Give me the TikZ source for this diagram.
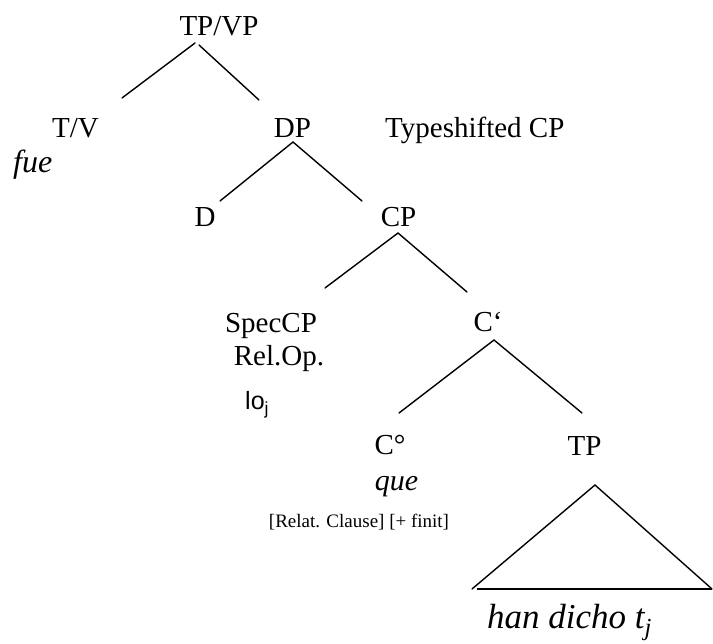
\documentclass[tikz,border=0pt]{standalone}
\usepackage{fontspec}
\setmainfont{Liberation Serif}
\newfontfamily\arialfont{Liberation Sans}
\begin{document}
\begin{tikzpicture}[x=1pt,y=-1pt,
  lbl/.style={anchor=base,inner sep=0pt,font=\fontsize{29}{34}\selectfont},
  word/.style={lbl,font=\fontsize{32}{38}\selectfont\itshape},
  note/.style={anchor=base,inner sep=0pt,font=\fontsize{19}{22}\selectfont},
  branch/.style={line width=1.4pt,line cap=round}]
\useasboundingbox (0,0) rectangle (713,644);

% category labels
\node[lbl] (tpvp) at (219,36) {TP/VP};
\node[lbl] (tv) at (75.5,138) {T/V};
\node[word,anchor=base west] (fue) at (13,173) {fue};
\node[lbl] (dp) at (292.5,138) {DP};
\node[lbl,anchor=base west] (tscp) at (385,138) {Typeshifted CP};
\node[lbl] (d) at (205,227) {D};
\node[lbl] (cp) at (398.5,227) {CP};
\node[lbl] (spec) at (271,333) {SpecCP};
\node[lbl] (relop) at (279,366) {Rel.Op.};
\node[lbl,anchor=base west,font=\arialfont\fontsize{25}{30}\selectfont] (lo) at (245,410) {lo\textsubscript{j}};
\node[lbl] (cbar) at (488,332) {C‘};
\node[lbl] (czero) at (390,455) {C°};
\node[lbl,font=\fontsize{30}{36}\selectfont\itshape] (que) at (396.5,490) {que};
\node[lbl] (tp) at (584.5,456) {TP};
\node[note] (feat) at (359,527) {[Relat. Clause] [+ finit]};
\node[lbl,anchor=base west,font=\fontsize{35}{40}\selectfont\itshape] (han) at (487,628) {han dicho t\textsubscript{j}};

% branch end points
\coordinate (tpvp-l) at (195,43);  \coordinate (tv-t) at (122,98);
\coordinate (tpvp-r) at (199,45);  \coordinate (dp-t) at (259,100);
\coordinate (dp-b) at (293,142);
\coordinate (d-t) at (220,201);    \coordinate (cp-t) at (362,201);
\coordinate (cp-b) at (398,233);
\coordinate (spec-t) at (325,288); \coordinate (cbar-t) at (467,292);
\coordinate (cbar-b) at (494,340);
\coordinate (czero-t) at (399,413); \coordinate (tp-t) at (582,413);
\coordinate (tri-top) at (595,485);
\coordinate (tri-l) at (472,589);  \coordinate (tri-r) at (712,589);

% branches
\draw[branch] (tpvp-l) -- (tv-t);
\draw[branch] (tpvp-r) -- (dp-t);
\draw[branch] (d-t) -- (dp-b) -- (cp-t);
\draw[branch] (spec-t) -- (cp-b) -- (cbar-t);
\draw[branch] (czero-t) -- (cbar-b) -- (tp-t);

% triangle over the TP
\draw[branch] (tri-l) -- (tri-top) -- (tri-r);
\draw[line width=2.4pt] ([xshift=5pt]tri-l) -- (tri-r);
\end{tikzpicture}
\end{document}
